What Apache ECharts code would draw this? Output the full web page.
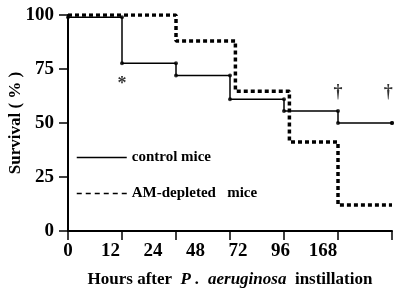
<!DOCTYPE html>
<html>
<head>
<meta charset="utf-8">
<script src="https://cdn.jsdelivr.net/npm/echarts@6/dist/echarts.min.js"></script>
<style>
  html, body { margin: 0; padding: 0; background: #fff; }
  #chart { width: 400px; height: 291px; }
</style>
</head>
<body>
<div id="chart"></div>
<script>
// x positions are tick slots on the (non-linear) hours axis
const tickLabels = ['0', '12', '24', '48', '72', '96', '168'];

const controlX = [0, 1, 2, 3, 4, 5, 6];
const controlSurvival = [99, 77.7, 72, 61, 55.5, 50, 50];

const depletedX = [0, 2, 3.1, 4.1, 5, 6];
const depletedSurvival = [100, 88, 64.7, 41.2, 12, 12];

// annotations: x slot, y value, mark
const noteX = [1, 5, 5.93];
const noteY = [68, 64, 64];
const noteText = ['*', '†', '†'];

const serif = '"Liberation Serif", "DejaVu Serif", serif';

const chart = echarts.init(document.getElementById('chart'));

// step corner dots on control curve (bottom and top of each drop)
const dots = [];
for (let i = 0; i < controlX.length; i++) {
  dots.push([controlX[i], controlSurvival[i]]);
  if (i > 0) dots.push([controlX[i], controlSurvival[i - 1]]);
}

const option = {
  backgroundColor: '#fff',
  animation: false,
  grid: { left: 68, right: 8, top: 15, bottom: 60, outerBoundsMode: 'none', containLabel: false },
  legend: {
    orient: 'vertical',
    left: 76,
    top: 150,
    padding: 0,
    itemWidth: 50,
    itemHeight: 14,
    itemGap: 21,
    textStyle: { fontFamily: serif, fontWeight: 'bold', fontSize: 15, color: '#000' },
    data: [
      { name: 'control mice', itemStyle: { opacity: 0 }, lineStyle: { width: 1.5, type: 'solid', color: '#000' } },
      { name: 'AM-depleted   mice', itemStyle: { opacity: 0 }, lineStyle: { width: 1.5, type: [5, 4], color: '#000' } }
    ]
  },
  xAxis: [
    {
      type: 'value',
      min: 0,
      max: 6,
      interval: 1,
      axisLine: { lineStyle: { color: '#000', width: 2 } },
      axisTick: { length: 9, lineStyle: { color: '#000', width: 1.5 } },
      axisLabel: { show: false },
      splitLine: { show: false },
      name: '{b|Hours after  }{i|P .  aeruginosa}{b|  instillation}',
      nameLocation: 'middle',
      nameGap: 40,
      nameMoveOverlap: false,
      nameTextStyle: {
        rich: {
          b: { fontFamily: serif, fontWeight: 'bold', fontSize: 17, color: '#000' },
          i: { fontFamily: serif, fontWeight: 'bold', fontStyle: 'italic', fontSize: 17, color: '#000' }
        }
      }
    },
    {
      type: 'value',
      position: 'bottom',
      min: 0,
      max: 324 / 42.5,
      interval: 1,
      axisLine: { show: false },
      axisTick: { show: false },
      splitLine: { show: false },
      axisLabel: {
        margin: 11,
        showMaxLabel: false,
        fontFamily: serif,
        fontWeight: 'bold',
        fontSize: 19,
        color: '#000',
        formatter: v => (Number.isInteger(v) && tickLabels[v] !== undefined ? tickLabels[v] : '')
      }
    }
  ],
  yAxis: {
    type: 'value',
    min: 0,
    max: 100,
    interval: 25,
    axisLine: { show: true, lineStyle: { color: '#000', width: 2 } },
    axisTick: { show: true, length: 9, lineStyle: { color: '#000', width: 1.5 } },
    axisLabel: { margin: 14, fontFamily: serif, fontWeight: 'bold', fontSize: 19, color: '#000' },
    splitLine: { show: false },
    name: 'Survival ( % )',
    nameLocation: 'middle',
    nameGap: 44,
    nameMoveOverlap: false,
    nameTextStyle: { fontFamily: serif, fontWeight: 'bold', fontSize: 17, color: '#000' }
  },
  series: [
    {
      name: 'control mice',
      type: 'line',
      step: 'end',
      data: controlX.map((x, i) => [x, controlSurvival[i]]),
      symbol: 'none',
      lineStyle: { color: '#000', width: 1.5 },
      itemStyle: { color: '#000' },
      z: 3
    },
    {
      name: 'AM-depleted   mice',
      type: 'line',
      step: 'end',
      data: depletedX.map((x, i) => [x, depletedSurvival[i]]),
      symbol: 'none',
      lineStyle: { color: '#000', width: 3.5, type: [4, 3] },
      itemStyle: { color: '#000' },
      z: 2
    },
    {
      name: 'dots',
      type: 'scatter',
      data: dots,
      symbol: 'circle',
      symbolSize: 4,
      itemStyle: { color: '#000' },
      z: 4
    },
    {
      name: 'notes',
      type: 'scatter',
      data: noteX.map((x, i) => [x, noteY[i], noteText[i]]),
      symbolSize: 0,
      label: {
        show: true,
        position: 'inside',
        formatter: p => p.data[2],
        fontFamily: serif,
        fontWeight: 'bold',
        fontSize: 18,
        color: '#000'
      },
      z: 5
    }
  ]
};

chart.setOption(option);
</script>
</body>
</html>
